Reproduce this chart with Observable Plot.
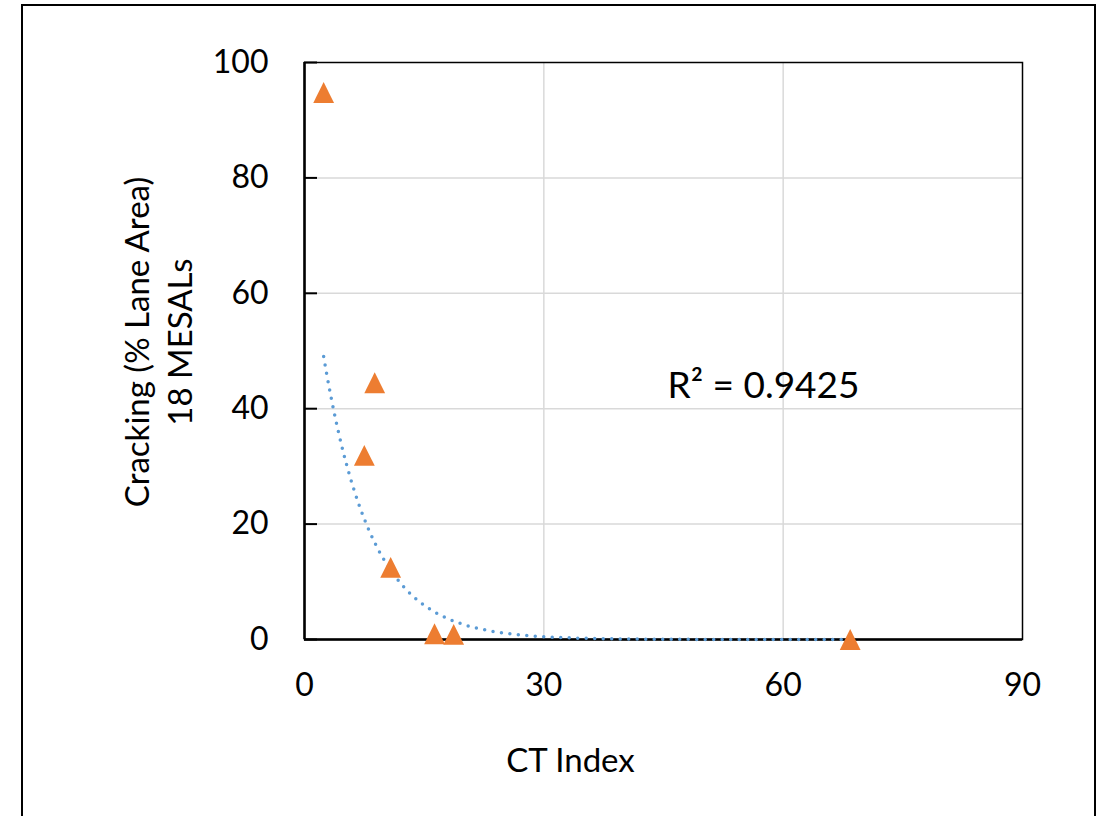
<!DOCTYPE html>
<html>
<head>
<meta charset="utf-8">
<script src="https://cdn.jsdelivr.net/npm/d3@7"></script>
<script src="https://cdn.jsdelivr.net/npm/@observablehq/plot@0.6"></script>
<style>
  html, body { margin: 0; padding: 0; background: #fff; }
  #wrap { position: relative; width: 1099px; height: 816px; overflow: hidden; }
  #border { position: absolute; left: 21px; top: 4px; width: 1071px; height: 900px; border: 2px solid #000; pointer-events: none; }
  svg { font-family: Lato, "Open Sans", sans-serif; }
</style>
</head>
<body>
<div id="wrap"><div id="border"></div></div>
<script>
// Data
const ctIndex  = [2.4, 7.5, 8.8, 10.8, 16.3, 18.7, 68.4];
const cracking = [94.8, 31.9, 44.5, 12.5, 1.0, 0.9, 0.0];
const xTicks = [0, 30, 60, 90];
const yTicks = [0, 20, 40, 60, 80, 100];
// Exponential trendline (Excel) y = a * exp(b * x), coefficients
const trendA = 73.3;
const trendB = -0.1675;
const trendR2 = "R² = 0.9425";
const xTitle = "CT Index";
const yTitle = "Cracking (% Lane Area)\n18 MESALs";

const points = ctIndex.map((x, i) => ({x, y: cracking[i]}));
const xMin = d3.min(ctIndex), xMax = d3.max(ctIndex);
const trend = d3.range(0, 201).map(i => {
  const x = xMin + (xMax - xMin) * i / 200;
  return {x, y: trendA * Math.exp(trendB * x)};
});

// isosceles triangle with width == height
const triangle = {
  draw(context, size) {
    const h = Math.sqrt(2 * size);
    context.moveTo(0, -h / 2);
    context.lineTo(h / 2, h / 2);
    context.lineTo(-h / 2, h / 2);
    context.closePath();
  }
};

const W = 1099, H = 816, mL = 304, mR = 77, mT = 62, mB = 177;
const frameW = W - mL - mR;

const chart = Plot.plot({
  width: W,
  height: H,
  marginLeft: mL,
  marginRight: mR,
  marginTop: mT,
  marginBottom: mB,
  style: {fontFamily: "Lato, 'Open Sans', sans-serif", fontSize: "32px", color: "#000", background: "transparent"},
  x: {domain: [0, 90]},
  y: {domain: [0, 100]},
  marks: [
    Plot.gridX(xTicks.filter(d => d > 0 && d < 90), {stroke: "#D9D9D9", strokeOpacity: 1, strokeWidth: 1.5}),
    Plot.gridY(yTicks.filter(d => d > 0 && d < 100), {stroke: "#D9D9D9", strokeOpacity: 1, strokeWidth: 1.5}),
    Plot.frame({stroke: "#000", strokeWidth: 1.5}),
    Plot.ruleX([0], {stroke: "#000", strokeWidth: 2.5}),
    Plot.ruleY([0], {stroke: "#000", strokeWidth: 2.5}),
    Plot.tickY(yTicks, {y: d => d, insetRight: frameW - 13, stroke: "#000", strokeWidth: 2}),
    Plot.axisX(xTicks, {tickSize: 0, tickPadding: 34, label: null, fontSize: 32}),
    Plot.axisY(yTicks, {tickSize: 0, tickPadding: 36, label: null, fontSize: 32}),
    Plot.line(trend, {x: "x", y: "y", stroke: "#5B9BD5", strokeWidth: 3.5, strokeDasharray: "0 8.5", strokeLinecap: "round"}),
    Plot.dot(points, {x: "x", y: "y", symbol: triangle, r: 8.3, fill: "#ED7D31", stroke: null}),
    Plot.text([trendR2], {frameAnchor: "top-left", text: d => d, dx: 363, dy: 309, textAnchor: "start", fontSize: 37, fill: "#000"}),
    Plot.text([xTitle], {frameAnchor: "bottom-left", text: d => d, dx: 266, dy: 132, textAnchor: "middle", fontSize: 33, fill: "#000"}),
    Plot.text([yTitle], {frameAnchor: "left", text: d => d, dx: -148, dy: -9, rotate: -90, textAnchor: "middle", lineHeight: 1.3, fontSize: 33, fill: "#000"})
  ]
});
document.getElementById("wrap").prepend(chart);
</script>
</body>
</html>
